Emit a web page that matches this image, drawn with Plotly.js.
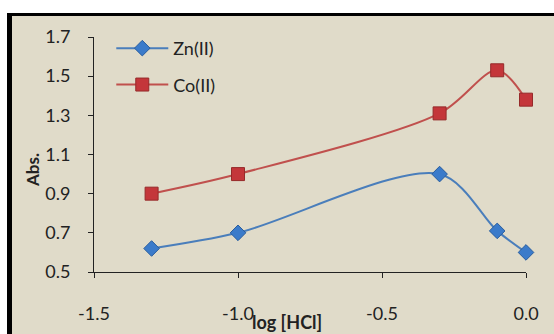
<!DOCTYPE html>
<html>
<head>
<meta charset="utf-8">
<script src="https://cdn.plot.ly/plotly-3.0.1.min.js"></script>
<style>
  html, body { margin: 0; padding: 0; background: #ffffff; width: 554px; height: 334px; overflow: hidden; }
  #frame { position: absolute; left: 7px; top: 13px; border-left: 5px solid #000; border-top: 3px solid #000; background: #E0DBC9; }
  #chart { width: 542px; height: 318px; }
</style>
</head>
<body>
<div id="frame"><div id="chart"></div></div>
<script>
const logHCl = [-1.3, -1.0, -0.3, -0.1, 0.0];
const znAbs = [0.62, 0.70, 1.00, 0.71, 0.60];
const coAbs = [0.90, 1.00, 1.31, 1.53, 1.38];
const seriesNames = ["Zn(II)", "Co(II)"];
const xTicks = [-1.5, -1.0, -0.5, 0.0];
const xTickText = ["-1.5", "-1.0", "-0.5", "0.0"];
const yTicks = [0.5, 0.7, 0.9, 1.1, 1.3, 1.5, 1.7];
const yTickText = ["0.5", "0.7", "0.9", "1.1", "1.3", "1.5", "1.7"];

const fontFam = "Lato, 'Open Sans', sans-serif";

const traces = [
  {
    x: logHCl, y: znAbs, name: seriesNames[0], legendgroup: "a",
    type: "scatter", mode: "lines+markers",
    line: { color: "#4A7EBB", width: 2, shape: "spline", smoothing: 0.9 },
    marker: { symbol: "diamond", size: 12, color: "#3B7BCA", line: { color: "#2A5E9E", width: 1 } },
    cliponaxis: false
  },
  {
    x: logHCl, y: coAbs, name: seriesNames[1], legendgroup: "b",
    type: "scatter", mode: "lines+markers",
    line: { color: "#C0504D", width: 2, shape: "spline", smoothing: 0.9 },
    marker: { symbol: "square", size: 13, color: "#C4363A", line: { color: "#962A2A", width: 1 } },
    cliponaxis: false
  }
];

const layout = {
  width: 542, height: 318,
  margin: { l: 82, r: 28, t: 21, b: 62 },
  paper_bgcolor: "rgba(0,0,0,0)",
  plot_bgcolor: "rgba(0,0,0,0)",
  font: { family: fontFam, size: 18, color: "#222" },
  showlegend: true,
  legend: {
    x: 0.04, y: 1.03, xanchor: "left", yanchor: "top",
    bgcolor: "rgba(0,0,0,0)", font: { family: fontFam, size: 18, color: "#222" },
    itemwidth: 52, tracegroupgap: 10, traceorder: "grouped"
  },
  xaxis: {
    range: [-1.5, 0], tickvals: xTicks, ticktext: xTickText,
    showgrid: false, zeroline: false, showline: true, linecolor: "#222", linewidth: 1,
    ticks: "outside", ticklen: 5, tickcolor: "#222",
    ticklabelstandoff: 20
  },
  yaxis: {
    range: [0.5, 1.7], tickvals: yTicks, ticktext: yTickText,
    showgrid: false, zeroline: false, showline: true, linecolor: "#222", linewidth: 1,
    ticks: "outside", ticklen: 5, tickcolor: "#222",
    ticklabelstandoff: 14
  },
  annotations: [
    { text: "<b>log [HCl]</b>", xref: "paper", yref: "paper", x: 0.447, y: -0.213,
      xanchor: "center", yanchor: "middle", showarrow: false, font: { family: fontFam, size: 18, color: "#222" } },
    { text: "<b>Abs.</b>", xref: "paper", yref: "paper", x: -0.1435, y: 0.434, textangle: -90,
      xanchor: "center", yanchor: "middle", showarrow: false, font: { family: fontFam, size: 17, color: "#222" } }
  ]
};

Plotly.newPlot("chart", traces, layout, { displayModeBar: false, staticPlot: true });
</script>
</body>
</html>
